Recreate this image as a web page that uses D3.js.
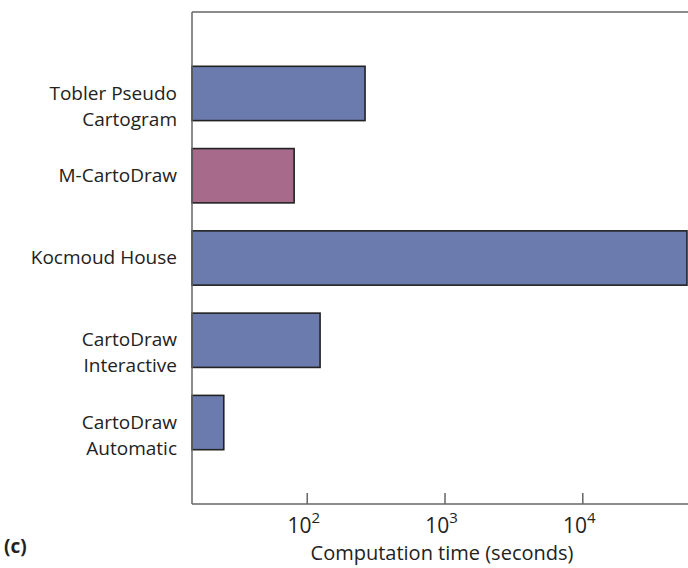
<!DOCTYPE html>
<html>
<head>
<meta charset="utf-8">
<script src="https://cdn.jsdelivr.net/npm/d3@7"></script>
<style>
  html, body { margin: 0; padding: 0; background: #fff; }
  svg { display: block; }
  text { font-family: "Open Sans", "Noto Sans", sans-serif; fill: #222; }
</style>
</head>
<body>
<svg id="chart" width="688" height="568"></svg>
<script>
// Methods, top to bottom, with their computation times in seconds
const methods = [
  ["Tobler Pseudo", "Cartogram"],
  ["M-CartoDraw"],
  ["Kocmoud House"],
  ["CartoDraw", "Interactive"],
  ["CartoDraw", "Automatic"]
];
const times = [265, 81, 57500, 125, 25];
const highlighted = [false, true, false, false, false];
const tickValues = [100, 1000, 10000];
const tickExponents = ["2", "3", "4"];
const axisTitle = "Computation time (seconds)";
const panelLabel = "(c)";

const svg = d3.select("#chart");
const plotLeft = 192, plotRight = 688, plotTop = 12, plotBottom = 504;

const x = d3.scaleLog()
  .domain([14.7, 59000])
  .range([plotLeft, plotRight + 0.5]);

const y = d3.scaleBand()
  .domain(d3.range(methods.length))
  .range([plotTop, plotBottom])
  .paddingInner(0.34)
  .paddingOuter(0.66);

// Bars
svg.append("g")
  .selectAll("rect")
  .data(times)
  .join("rect")
  .attr("x", plotLeft)
  .attr("y", (d, i) => y(i))
  .attr("width", d => x(d) - plotLeft)
  .attr("height", y.bandwidth())
  .attr("fill", (d, i) => highlighted[i] ? "#a86a8a" : "#6b7bad")
  .attr("stroke", "#222")
  .attr("stroke-width", 1.6);

// Frame lines: top and left
const axisColor = "#666";
svg.append("line").attr("x1", plotLeft).attr("x2", plotRight).attr("y1", plotTop).attr("y2", plotTop)
  .attr("stroke", axisColor).attr("stroke-width", 1.5);
svg.append("line").attr("x1", plotLeft).attr("x2", plotLeft).attr("y1", plotTop).attr("y2", plotBottom)
  .attr("stroke", axisColor).attr("stroke-width", 1.5);

// Bottom axis with inward ticks
const xAxis = d3.axisBottom(x)
  .tickValues(tickValues)
  .tickSizeInner(-11)
  .tickSizeOuter(0)
  .tickFormat("");
const gx = svg.append("g")
  .attr("transform", `translate(0,${plotBottom})`)
  .call(xAxis);
gx.select(".domain").attr("stroke", axisColor).attr("stroke-width", 1.5)
  .attr("d", `M${plotLeft},0H${plotRight}`);
gx.selectAll(".tick line").attr("stroke", axisColor).attr("stroke-width", 1.5);

// Tick labels as powers of ten
const tl = svg.append("g").selectAll("text")
  .data(tickValues)
  .join("text")
  .attr("x", d => x(d) - 3)
  .attr("y", 533)
  .attr("text-anchor", "middle")
  .style("font-size", "21px");
tl.append("tspan").text("10");
tl.append("tspan")
  .attr("dy", -10)
  .style("font-size", "15px")
  .text((d, i) => tickExponents[i]);

svg.append("text")
  .attr("x", 442)
  .attr("y", 560)
  .attr("text-anchor", "middle")
  .style("font-size", "20px")
  .text(axisTitle);

// Category labels: first line level with the bar centre, extra lines below
const lineGap = 26;
svg.append("g").selectAll("text")
  .data(methods)
  .join("text")
  .attr("text-anchor", "end")
  .style("font-size", "19px")
  .each(function(lines, i) {
    const cy = y(i) + y.bandwidth() / 2;
    const t = d3.select(this);
    lines.forEach((ln, k) => {
      t.append("tspan")
        .attr("x", 177)
        .attr("y", cy + k * lineGap - 0.5)
        .attr("dy", "0.35em")
        .text(ln);
    });
  });

svg.append("text")
  .attr("x", 4)
  .attr("y", 553)
  .style("font-size", "19px")
  .style("font-weight", "bold")
  .text(panelLabel);
</script>
</body>
</html>
